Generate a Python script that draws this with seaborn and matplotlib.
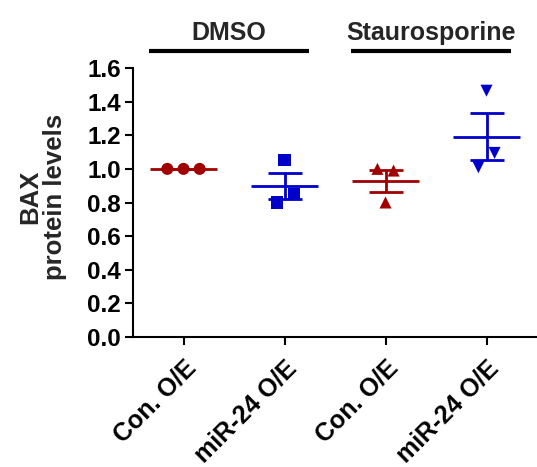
import numpy as np
import pandas as pd
import matplotlib
matplotlib.use("Agg")
import matplotlib.pyplot as plt
import seaborn as sns

# values (left, middle, right point in each column)
con_dmso = [1.00, 1.00, 1.00]
mir_dmso = [0.80, 1.05, 0.85]
con_sts = [1.00, 0.80, 0.99]
mir_sts = [1.01, 1.465, 1.095]

tick_labels = ["Con. O/E", "miR-24 O/E", "Con. O/E", "miR-24 O/E"]
treatments = ["DMSO", "Staurosporine"]

# horizontal scatter of the points within a column
offsets = [[-0.16, 0.0, 0.16], [-0.07, 0.0, 0.09], [-0.08, 0.0, 0.08], [-0.08, 0.0, 0.08]]

red = "#A00000"
blue = "#0000C8"
colors = [red, blue, red, blue]
markers = ["o", "s", "^", "v"]

rows = []
for i, vals in enumerate([con_dmso, mir_dmso, con_sts, mir_sts]):
    for v, off in zip(vals, offsets[i]):
        rows.append({"grp": i, "x": i + off, "value": v})
df = pd.DataFrame(rows)

sns.set_style("ticks")
plt.rcParams["font.family"] = ["Liberation Sans", "DejaVu Sans"]
plt.rcParams["font.weight"] = "bold"

fig = plt.figure(figsize=(5.37, 4.67), dpi=100)
ax = fig.add_axes([133 / 537, 130 / 467, 404 / 537, 269 / 467])

# mean and SEM
stats = df.groupby("grp")["value"].agg(["mean", "sem"])
for i, r in stats.iterrows():
    c = colors[i]
    ax.hlines(r["mean"], i - 0.33, i + 0.33, color=c, lw=2.0, zorder=2)
    ax.errorbar(i, r["mean"], yerr=r["sem"], color=c, lw=2.0, capsize=12,
                capthick=2.0, fmt="none", zorder=2)

sns.scatterplot(data=df, x="x", y="value", hue="grp", style="grp",
                palette=dict(enumerate(colors)), markers=dict(enumerate(markers)),
                s=75, edgecolor="none", legend=False, ax=ax, zorder=3)

ax.set_xlim(-0.5, 3.5)
ax.set_ylim(0, 1.6)
ax.set_yticks(np.arange(0, 1.61, 0.2))
ax.set_yticklabels([f"{t:.1f}" for t in np.arange(0, 1.61, 0.2)], fontsize=17.5, fontweight="bold")
ax.set_xticks(range(4))
ax.set_xticklabels(tick_labels, rotation=45, ha="right", rotation_mode="anchor",
                   fontsize=18, fontweight="bold")
ax.set_xlabel("")
ax.set_ylabel("BAX\nprotein levels", fontsize=18.5, fontweight="bold", linespacing=1.05)
ax.yaxis.set_label_coords(-0.163, 0.52)

for s in ["top", "right"]:
    ax.spines[s].set_visible(False)
for s in ["left", "bottom"]:
    ax.spines[s].set_linewidth(1.5)
    ax.spines[s].set_color("black")
ax.tick_params(axis="both", width=1.5, length=5.5, color="black", labelcolor="black")
ax.tick_params(axis="y", pad=3)
ax.tick_params(axis="x", pad=8)

# treatment brackets above the columns
for j, name in enumerate(treatments):
    x0, x1 = 2 * j - 0.34, 2 * j + 1.24
    ax.plot([x0, x1], [1.70, 1.70], color="black", lw=3, clip_on=False,
            solid_capstyle="butt")
    ax.text((x0 + x1) / 2, 1.81, name, ha="center", va="center",
            fontsize=18, fontweight="bold")

fig.savefig("out.png", dpi=100)
